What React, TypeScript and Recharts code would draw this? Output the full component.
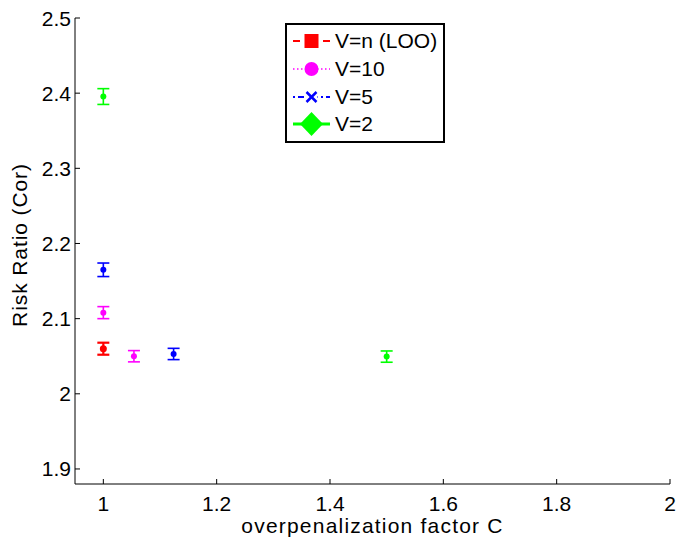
import { ScatterChart, Scatter, XAxis, YAxis, ErrorBar } from "recharts";

const FONT = '"Liberation Sans", Arial, Helvetica, sans-serif';

const xTicks = [1, 1.2, 1.4, 1.6, 1.8, 2];
const yTicks = [1.9, 2, 2.1, 2.2, 2.3, 2.4, 2.5];

// V=n (LOO)
const looC = [1];
const looRisk = [2.06];
const looErr = [0.008];

// V=10
const v10C = [1, 1.054];
const v10Risk = [2.108, 2.05];
const v10Err = [0.008, 0.0075];

// V=5
const v5C = [1, 1.124];
const v5Risk = [2.165, 2.053];
const v5Err = [0.009, 0.0075];

// V=2
const v2C = [1, 1.5];
const v2Risk = [2.3955, 2.0495];
const v2Err = [0.0105, 0.0075];

const toPoints = (c: number[], risk: number[], err: number[]) =>
  c.map((x, i) => ({ c: x, risk: risk[i], err: err[i] }));

const series = [
  { name: "V=n (LOO)", color: "#ff0000", data: toPoints(looC, looRisk, looErr), r: 3.5, bar: 2.2, marker: "square" },
  { name: "V=10", color: "#ff00ff", data: toPoints(v10C, v10Risk, v10Err), r: 3, bar: 1.6, marker: "circle" },
  { name: "V=5", color: "#0000ff", data: toPoints(v5C, v5Risk, v5Err), r: 3, bar: 1.6, marker: "cross" },
  { name: "V=2", color: "#00ff00", data: toPoints(v2C, v2Risk, v2Err), r: 3, bar: 1.6, marker: "diamond" },
];

const YTick = ({ x, y, payload }: any) => (
  <g>
    <line x1={x} x2={x + 5} y1={y} y2={y} stroke="#000" />
    <text x={x - 4} y={y} dy={7.5} textAnchor="end" fontSize={21} fontFamily={FONT} fill="#000">
      {String(payload.value)}
    </text>
  </g>
);

const XTick = ({ x, y, payload }: any) => (
  <g>
    <line x1={x} x2={x} y1={y} y2={y - 5} stroke="#000" />
    <text x={x} y={y + 27} textAnchor="middle" fontSize={21} fontFamily={FONT} fill="#000">
      {String(payload.value)}
    </text>
  </g>
);

const YLabel = ({ viewBox }: any) => {
  const cx = viewBox.x + 19;
  const cy = viewBox.y + viewBox.height / 2 - 6;
  return (
    <text
      x={cx}
      y={cy}
      transform={`rotate(-90 ${cx} ${cy})`}
      textAnchor="middle"
      dominantBaseline="central"
      fontSize={21}
      letterSpacing={0.9}
      fontFamily={FONT}
      fill="#000"
    >
      Risk Ratio (Cor)
    </text>
  );
};

const XLabel = ({ viewBox }: any) => (
  <text
    x={viewBox.x + viewBox.width / 2}
    y={viewBox.y + 49}
    textAnchor="middle"
    fontSize={21}
    letterSpacing={1.2}
    fontFamily={FONT}
    fill="#000"
  >
    overpenalization factor C
  </text>
);

const Marker = ({ kind, color }: { kind: string; color: string }) => {
  const c = 24.5;
  const m = 14;
  if (kind === "square") {
    return (
      <>
        <line x1={6} x2={43} y1={m} y2={m} stroke={color} strokeWidth={2} strokeDasharray="7 23 7" />
        <rect x={c - 7} y={m - 7} width={14} height={14} fill={color} />
      </>
    );
  }
  if (kind === "circle") {
    return (
      <>
        <line x1={6} x2={43} y1={m} y2={m} stroke={color} strokeWidth={1.5} strokeDasharray="1.5 2.5" />
        <circle cx={c} cy={m} r={7} fill={color} />
      </>
    );
  }
  if (kind === "cross") {
    return (
      <>
        <line x1={6} x2={43} y1={m} y2={m} stroke={color} strokeWidth={2} strokeDasharray="2 3 6 3" />
        <rect x={c - 6} y={m - 6} width={12} height={12} fill="#fff" />
        <line x1={c - 5} x2={c + 5} y1={m - 5} y2={m + 5} stroke={color} strokeWidth={2.5} />
        <line x1={c - 5} x2={c + 5} y1={m + 5} y2={m - 5} stroke={color} strokeWidth={2.5} />
      </>
    );
  }
  return (
    <>
      <line x1={6} x2={43} y1={m} y2={m} stroke={color} strokeWidth={3} />
      <polygon points={`${c},${m - 12} ${c + 11.5},${m} ${c},${m + 12} ${c - 11.5},${m}`} fill={color} />
    </>
  );
};

const LegendBox = () => (
  <div
    style={{
      position: "absolute",
      left: 285,
      top: 23,
      width: 160,
      height: 120,
      boxSizing: "border-box",
      border: "2px solid #000",
      background: "#fff",
      paddingTop: 2,
      fontFamily: FONT,
      fontSize: 21,
      color: "#000",
    }}
  >
    {series.map((s) => (
      <div key={s.name} style={{ display: "flex", alignItems: "center", height: 27.8 }}>
        <svg width={48} height={28} style={{ overflow: "visible", flexShrink: 0 }}>
          <Marker kind={s.marker} color={s.color} />
        </svg>
        <span style={{ whiteSpace: "nowrap", lineHeight: "28px" }}>{s.name}</span>
      </div>
    ))}
  </div>
);

export default function App() {
  return (
    <div style={{ position: "absolute", left: 0, top: 0, width: 677, height: 539, background: "#fff" }}>
      <ScatterChart width={677} height={539} margin={{ top: 18, right: 7, bottom: 0, left: 0 }}>
        <XAxis
          type="number"
          dataKey="c"
          domain={[0.95, 2]}
          ticks={xTicks}
          height={55}
          axisLine={{ stroke: "#000", strokeWidth: 1 }}
          tickLine={false}
          tickSize={0}
          tickMargin={0}
          tick={<XTick />}
          interval={0}
          label={<XLabel />}
        />
        <YAxis
          type="number"
          dataKey="risk"
          domain={[1.88, 2.5]}
          ticks={yTicks}
          width={75}
          axisLine={{ stroke: "#000", strokeWidth: 1 }}
          tickLine={false}
          tickSize={0}
          tickMargin={0}
          tick={<YTick />}
          interval={0}
          label={<YLabel />}
        />
        {series.map((s) => (
          <Scatter
            key={s.name}
            name={s.name}
            data={s.data}
            fill={s.color}
            isAnimationActive={false}
            shape={(p: any) => <circle cx={p.cx} cy={p.cy} r={s.r} fill={s.color} />}
          >
            <ErrorBar dataKey="err" direction="y" width={6} stroke={s.color} strokeWidth={s.bar} isAnimationActive={false} />
          </Scatter>
        ))}
      </ScatterChart>
      <LegendBox />
    </div>
  );
}
